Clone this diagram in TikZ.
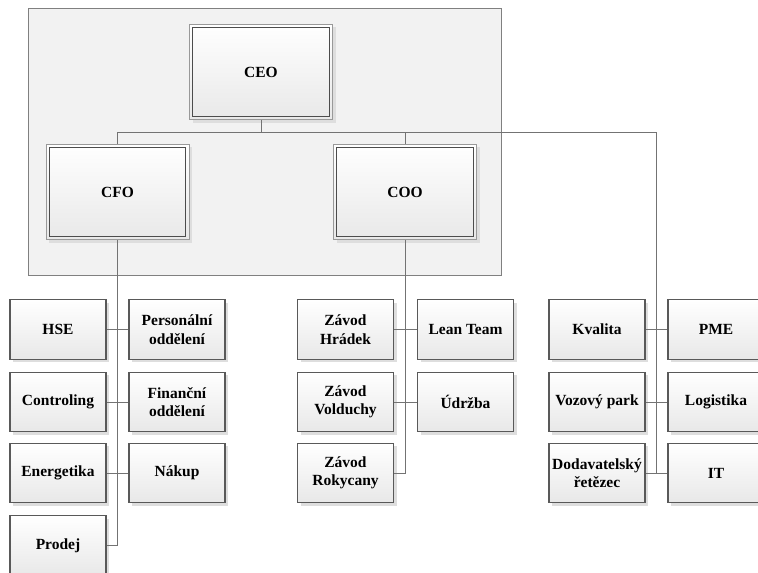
\documentclass[tikz,border=0pt]{standalone}
\usepackage{fontspec}
\setmainfont{Liberation Serif}
\usetikzlibrary{shadows,calc}
\begin{document}
\begin{tikzpicture}[x=1pt,y=-1pt,
	linka/.style={draw=black!55, line width=.9pt},
	utvar/.style={draw=black!65, line width=1.1pt, top color=white, bottom color=black!9,
		general shadow={fill=black!13, shadow xshift=3pt, shadow yshift=-3pt},
		minimum width=96pt, minimum height=59.5pt, inner sep=1pt, align=center,
		font=\fontsize{15.5}{18.5}\selectfont\bfseries},
	vedeni/.style={utvar, draw=black!40, line width=1pt,
		minimum width=143pt, minimum height=95.5pt,
		path picture={\draw[black!70, line width=1.3pt]
			([shift={(3.2pt,3.2pt)}]path picture bounding box.south west) rectangle
			([shift={(-3.2pt,-3.2pt)}]path picture bounding box.north east);}}]
	%\draw[help lines] (0,0) grid (758,573);
	\useasboundingbox (0,0) rectangle (758,573);
	\draw[draw=black!50, fill=black!5, line width=1pt] (28.5,8) rectangle (501,275.5);
	\path
		(261,72) node[vedeni] (ceo) {CEO}
		(117.5,192) node[vedeni] (cfo) {CFO}
		(405,192) node[vedeni] (coo) {COO}
	;
	\path
		(58,329.5) node[utvar] (hse) {HSE}
		(177,329.5) node[utvar] (pers) {Personální\\oddělení}
		(58,402) node[utvar] (contr) {Controling}
		(177,402) node[utvar] (fin) {Finanční\\oddělení}
		(58,473) node[utvar] (energ) {Energetika}
		(177,473) node[utvar] (nakup) {Nákup}
		(58,545.5) node[utvar] (prodej) {Prodej}
		(345.5,329.5) node[utvar] (hradek) {Závod\\Hrádek}
		(465.5,329.5) node[utvar] (lean) {Lean Team}
		(345.5,402) node[utvar] (volduchy) {Závod\\Volduchy}
		(465.5,402) node[utvar] (udrzba) {Údržba}
		(345.5,473) node[utvar] (rokycany) {Závod\\Rokycany}
		(597,329.5) node[utvar] (kvalita) {Kvalita}
		(716,329.5) node[utvar] (pme) {PME}
		(597,402) node[utvar] (vozpark) {Vozový park}
		(716,402) node[utvar] (logist) {Logistika}
		(597,473) node[utvar] (dodav) {Dodavatelský\\řetězec}
		(716,473) node[utvar] (it) {IT}
	;
	\coordinate (rozcesti) at ($(ceo.south)+(0,12)$);
	\coordinate (kmen) at ($(dodav.east)!.5!(it.west)$);
	\draw[linka] (ceo.south) -- (rozcesti) -| (cfo.north);
	\draw[linka] (rozcesti) -| (coo.north);
	\draw[linka] (rozcesti) -| (kmen);
	\draw[linka] (cfo.south) |- (prodej.east);
	\draw[linka] (coo.south) |- (rokycany.east);
	\draw[linka] (hse.east) -- (pers.west);
	\draw[linka] (contr.east) -- (fin.west);
	\draw[linka] (energ.east) -- (nakup.west);
	\draw[linka] (hradek.east) -- (lean.west);
	\draw[linka] (volduchy.east) -- (udrzba.west);
	\draw[linka] (kvalita.east) -- (pme.west);
	\draw[linka] (vozpark.east) -- (logist.west);
	\draw[linka] (dodav.east) -- (it.west);
\end{tikzpicture}
\end{document}
